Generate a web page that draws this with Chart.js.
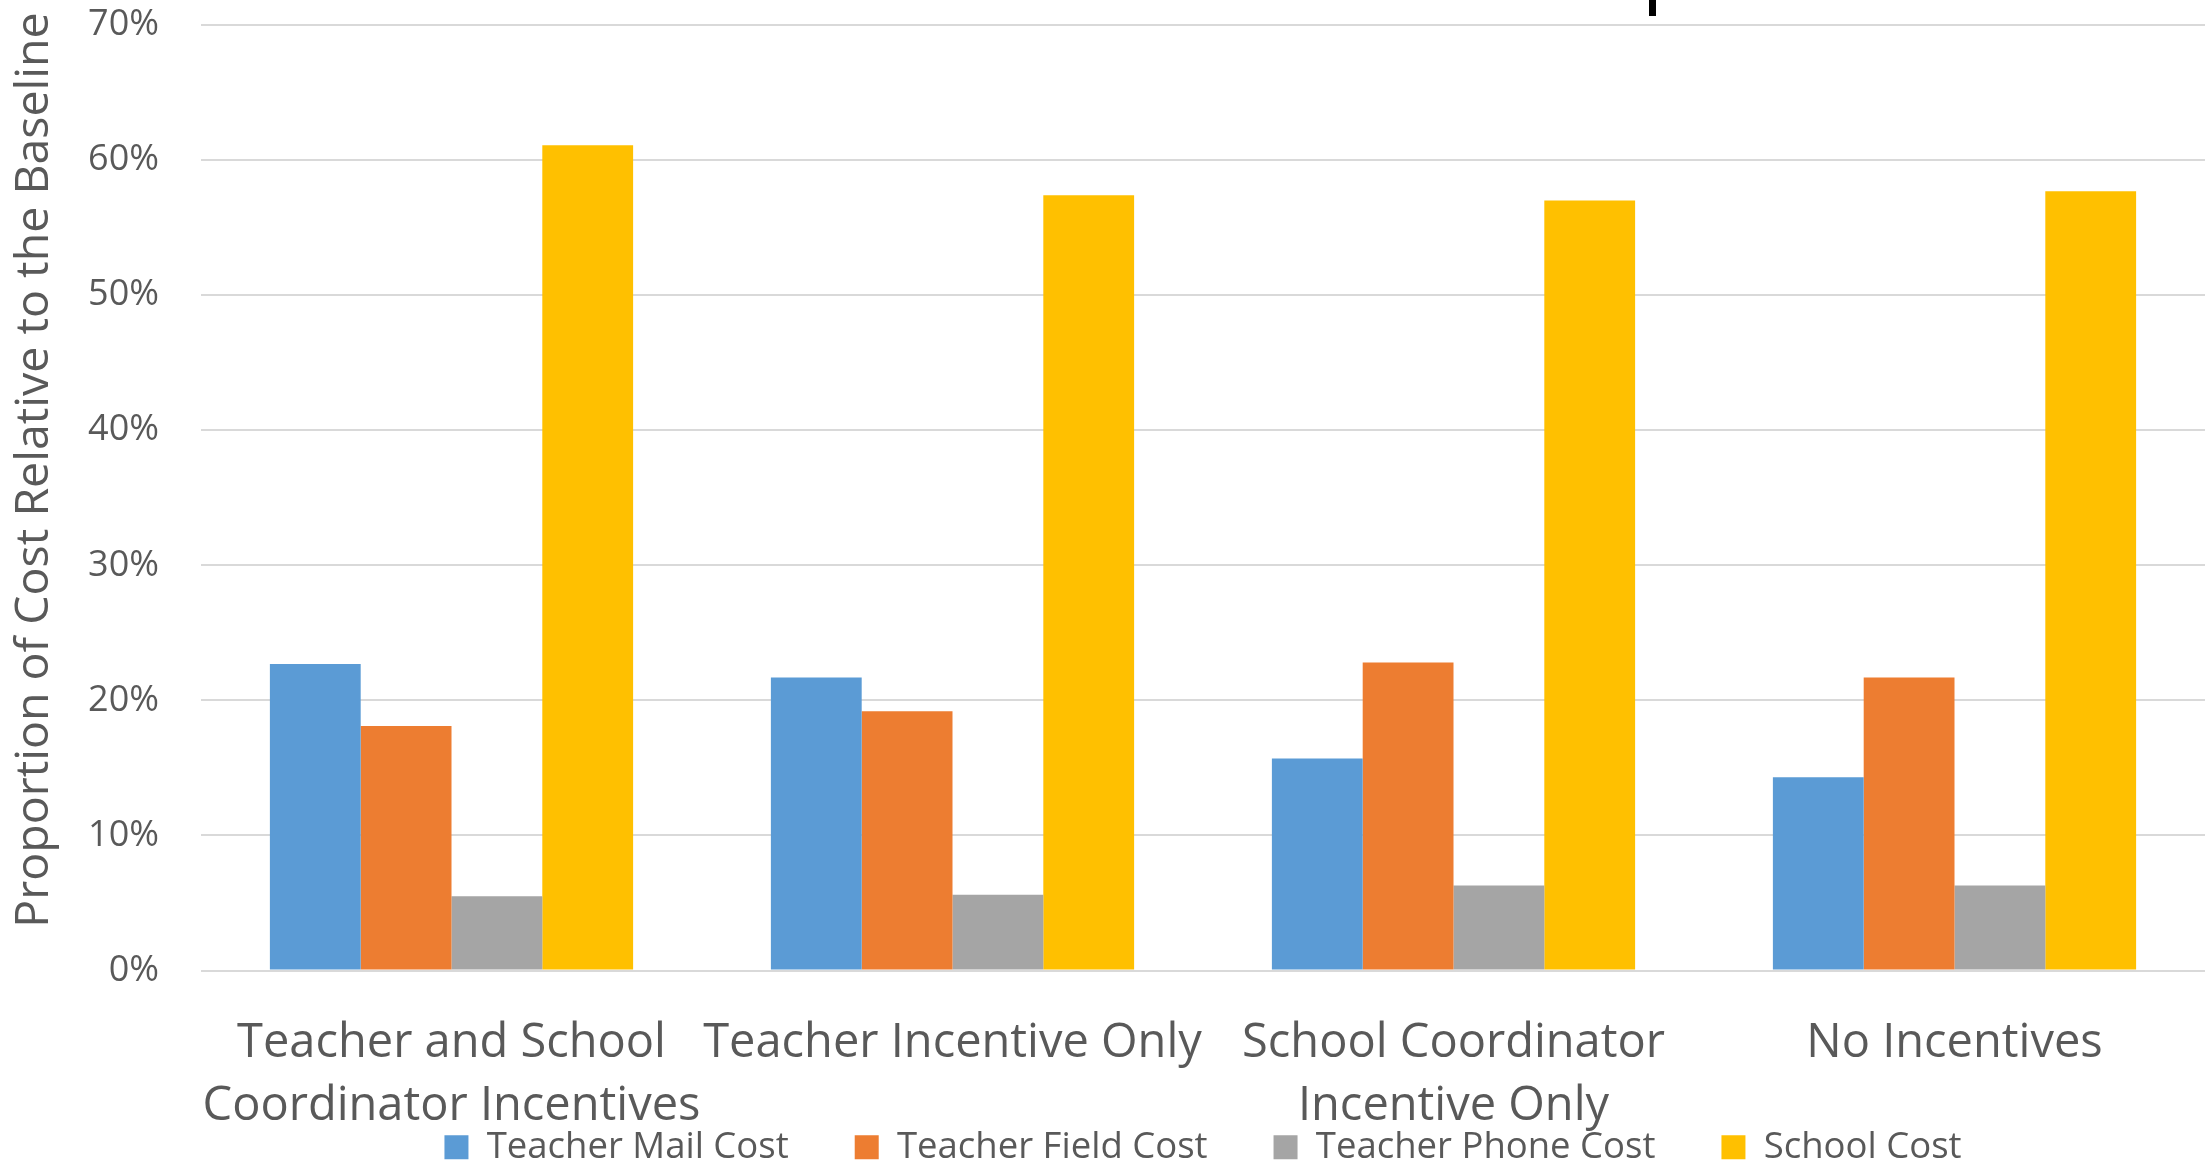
<!DOCTYPE html>
<html lang="en">
<head>
    <meta charset="UTF-8">
    <title>Proportion of Cost Relative to the Baseline</title>
    <script src="https://cdn.jsdelivr.net/npm/chart.js"></script>
    <style>
        body { margin: 0; background: #fff; }
    </style>
</head>
<body>
    <canvas id="costChart" width="2205" height="1163"></canvas>
    <script>
        // values, as fractions of baseline cost
        const categories = [
            ["Teacher and School", "Coordinator Incentives"],
            "Teacher Incentive Only",
            ["School Coordinator", "Incentive Only"],
            "No Incentives"
        ];
        const mailCost = [0.227, 0.217, 0.157, 0.143];
        const fieldCost = [0.181, 0.192, 0.228, 0.217];
        const phoneCost = [0.055, 0.056, 0.063, 0.063];
        const schoolCost = [0.611, 0.574, 0.570, 0.577];
        const yTicks = [0, 0.1, 0.2, 0.3, 0.4, 0.5, 0.6, 0.7];

        const textColor = "#595959";
        const fontFamily = "'Open Sans', Lato, sans-serif";

        const extras = {
            id: "extras",
            // the legend overlaps the lower x labels in the original; pull it up
            afterLayout(chart) {
                let legend = chart.legend;
                let h = legend.bottom - legend.top;
                legend.top = 1063;
                legend.bottom = 1063 + h;
            },
            // y title sits a bit above the plot centre in the original, so draw it by hand
            afterDraw(chart) {
                let ctx = chart.ctx;
                ctx.save();
                ctx.translate(35, 470);
                ctx.rotate(-Math.PI / 2);
                ctx.fillStyle = textColor;
                ctx.font = "46.5px " + fontFamily;
                ctx.textAlign = "center";
                ctx.textBaseline = "middle";
                ctx.fillText("Proportion of Cost Relative to the Baseline", 0, 0);
                ctx.restore();

                // stray bit of the cropped title at the top edge
                ctx.save();
                ctx.fillStyle = "#000";
                ctx.fillRect(1649, 0, 7, 16);
                ctx.restore();
            }
        };

        new Chart(document.getElementById("costChart"), {
            type: "bar",
            data: {
                labels: categories,
                datasets: [
                    { label: "Teacher Mail Cost", data: mailCost, backgroundColor: "#5B9BD5" },
                    { label: "Teacher Field Cost", data: fieldCost, backgroundColor: "#ED7D31" },
                    { label: "Teacher Phone Cost", data: phoneCost, backgroundColor: "#A5A5A5" },
                    { label: "School Cost", data: schoolCost, backgroundColor: "#FFC000" }
                ]
            },
            options: {
                responsive: false,
                animation: false,
                devicePixelRatio: 1,
                categoryPercentage: 0.725,
                barPercentage: 1.0,
                layout: { padding: { top: 25, bottom: -90, left: 0, right: 0 } },
                plugins: {
                    tooltip: { enabled: false },
                    legend: {
                        position: "bottom",
                        fullSize: false,
                        labels: {
                            boxWidth: 24,
                            boxHeight: 24,
                            padding: 66,
                            color: textColor,
                            font: { family: fontFamily, size: 36.5 }
                        }
                    }
                },
                scales: {
                    x: {
                        grid: { display: false },
                        border: { display: false },
                        ticks: {
                            color: textColor,
                            font: { family: fontFamily, size: 47, lineHeight: 1.34 },
                            padding: 34,
                            maxRotation: 0,
                            autoSkip: false
                        },
                        afterFit(scale) { scale.height = 170; }
                    },
                    y: {
                        min: 0,
                        max: 0.7,
                        afterBuildTicks(scale) { scale.ticks = yTicks.map(v => ({ value: v })); },
                        grid: { color: "#D9D9D9", lineWidth: 2, drawTicks: false },
                        border: { display: false },
                        ticks: {
                            color: textColor,
                            font: { family: fontFamily, size: 36 },
                            padding: 42,
                            callback: v => Math.round(v * 100) + "%"
                        },
                        afterFit(scale) {
                            scale.width = 201;
                            scale.paddingTop = 0;
                            scale.paddingBottom = 0;
                        }
                    }
                }
            },
            plugins: [extras]
        });
    </script>
</body>
</html>
